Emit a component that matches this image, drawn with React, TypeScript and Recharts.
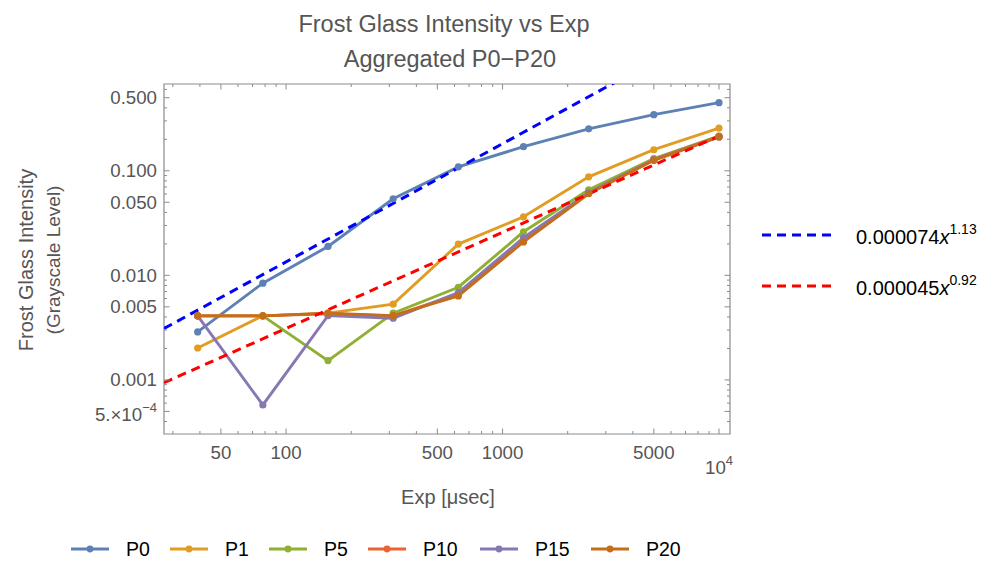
import React from "react";
import { LineChart, Line, XAxis, YAxis, ReferenceArea } from "recharts";

// exposure times in µsec (doubling steps up to 10^4)
const exposures = [39.0625, 78.125, 156.25, 312.5, 625, 1250, 2500, 5000, 10000];

const seriesNames = ["P0", "P1", "P5", "P10", "P15", "P20"];
const seriesColors = ["#5e81b5", "#e19c24", "#8fb032", "#eb6235", "#8778b3", "#c56e1a"];

const p0 = [0.00288, 0.00842, 0.0189, 0.054, 0.109, 0.17, 0.252, 0.344, 0.448];
const p1 = [0.00202, 0.0041, 0.00435, 0.0053, 0.0199, 0.0363, 0.0876, 0.159, 0.256];
const p5 = [0.0041, 0.0041, 0.00153, 0.00435, 0.0077, 0.0261, 0.0658, 0.131, 0.215];
const p10 = [0.0041, 0.0041, 0.0043, 0.0041, 0.0066, 0.0218, 0.0616, 0.128, 0.213];
const p15 = [0.0041, 0.000576, 0.00412, 0.00389, 0.00684, 0.0229, 0.0616, 0.127, 0.211];
const p20 = [0.0041, 0.0041, 0.00435, 0.00412, 0.00636, 0.0209, 0.0603, 0.126, 0.211];
const seriesValues = [p0, p1, p5, p10, p15, p20];

// power-law fits, end points
const fitBlueX = [27.3, 10000];
const fitBlueY = [0.0031, 2.45];
const fitRedX = [27.3, 10000];
const fitRedY = [0.00094, 0.215];
const fitCoefs = ["0.000074", "0.000045"];
const fitExps = ["1.13", "0.92"];
const fitColors = ["#0000ff", "#ff0000"];

const xMajorTicks = [50, 100, 500, 1000, 5000, 10000];
const xMinorTicks = [30, 40, 60, 70, 80, 90, 200, 300, 400, 600, 700, 800, 900, 2000, 3000, 4000, 6000, 7000, 8000, 9000];
const yMajorTicks = [0.0005, 0.001, 0.005, 0.01, 0.05, 0.1, 0.5];
const yMajorLabels = ["5.×10", "0.001", "0.005", "0.010", "0.050", "0.100", "0.500"];
const yMinorTicks = [0.0004, 0.0006, 0.0007, 0.0008, 0.0009, 0.002, 0.003, 0.004, 0.006, 0.007, 0.008, 0.009, 0.02, 0.03, 0.04, 0.06, 0.07, 0.08, 0.09, 0.2, 0.3, 0.4, 0.6];

const xDomain = [27.3, 11240];
const yDomain = [0.000304, 0.676];

const W = 997;
const H = 563;
const PLOT = { left: 164, right: 730, top: 84, bottom: 434 };
const FRAME = "#8c8c8c";
const AXIS_TEXT = "#555";
const FONT = "'Liberation Sans', Arial, sans-serif";

const toPoints = (xs: number[], ys: number[]) => xs.map((x, i) => ({ x, y: ys[i] }));

function XTick(props: any) {
  const { x, payload } = props;
  const v = payload.value;
  const major = xMajorTicks.includes(v);
  const len = major ? 5.5 : 3;
  return (
    <g>
      <line x1={x} x2={x} y1={PLOT.bottom} y2={PLOT.bottom - len} stroke={FRAME} />
      <line x1={x} x2={x} y1={PLOT.top} y2={PLOT.top + len} stroke={FRAME} />
      {major && v === 10000 && (
        <text x={x} y={474} textAnchor="middle" fontSize={18.7} fill={AXIS_TEXT} fontFamily={FONT}>
          10<tspan dy={-9} fontSize={13}>4</tspan>
        </text>
      )}
      {major && v !== 10000 && (
        <text x={x} y={459} textAnchor="middle" fontSize={18.7} fill={AXIS_TEXT} fontFamily={FONT}>
          {v}
        </text>
      )}
    </g>
  );
}

function YTick(props: any) {
  const { y, payload } = props;
  const v = payload.value;
  const idx = yMajorTicks.indexOf(v);
  const major = idx >= 0;
  const len = major ? 5.5 : 3;
  return (
    <g>
      <line x1={PLOT.left} x2={PLOT.left + len} y1={y} y2={y} stroke={FRAME} />
      <line x1={PLOT.right} x2={PLOT.right - len} y1={y} y2={y} stroke={FRAME} />
      {major && v === 0.0005 && (
        <text x={PLOT.left - 7} y={y + 10} textAnchor="end" fontSize={18.7} fill={AXIS_TEXT} fontFamily={FONT}>
          {yMajorLabels[idx]}
          <tspan dy={-9} fontSize={13}>−4</tspan>
        </text>
      )}
      {major && v !== 0.0005 && (
        <text x={PLOT.left - 7} y={y + 6.5} textAnchor="end" fontSize={18.7} fill={AXIS_TEXT} fontFamily={FONT}>
          {yMajorLabels[idx]}
        </text>
      )}
    </g>
  );
}

const legendLineX = [71, 170, 269, 368, 480, 591];

export default function App() {
  const series = seriesNames.map((name, i) => ({
    name,
    color: seriesColors[i],
    data: toPoints(exposures, seriesValues[i]),
  }));
  const fits = [toPoints(fitBlueX, fitBlueY), toPoints(fitRedX, fitRedY)];

  return (
    <div style={{ position: "absolute", left: 0, top: 0, width: W, height: H, background: "#fff" }}>
      <LineChart
        width={W}
        height={H}
        margin={{ top: PLOT.top, right: W - PLOT.right, bottom: H - PLOT.bottom - 30, left: PLOT.left - 60 }}
      >
        <XAxis
          dataKey="x"
          type="number"
          scale="log"
          domain={xDomain}
          allowDataOverflow
          ticks={[...xMinorTicks, ...xMajorTicks].sort((a, b) => a - b)}
          interval={0}
          tick={<XTick />}
          tickLine={false}
          axisLine={false}
          height={30}
        />
        <YAxis
          dataKey="y"
          type="number"
          scale="log"
          domain={yDomain}
          allowDataOverflow
          ticks={[...yMinorTicks, ...yMajorTicks].sort((a, b) => a - b)}
          interval={0}
          tick={<YTick />}
          tickLine={false}
          axisLine={false}
          width={60}
        />
        <ReferenceArea
          x1={xDomain[0]}
          x2={xDomain[1]}
          y1={yDomain[0]}
          y2={yDomain[1]}
          fill="none"
          stroke={FRAME}
          strokeWidth={1.2}
          ifOverflow="visible"
        />
        {series.map((s) => (
          <Line
            key={s.name}
            data={s.data}
            dataKey="y"
            type="linear"
            stroke={s.color}
            strokeWidth={2.9}
            dot={{ r: 3.6, fill: s.color, stroke: s.color, strokeWidth: 0 }}
            isAnimationActive={false}
          />
        ))}
        {fits.map((f, i) => (
          <Line
            key={"fit" + i}
            data={f}
            dataKey="y"
            type="linear"
            stroke={fitColors[i]}
            strokeWidth={3}
            strokeDasharray="9 6"
            dot={false}
            isAnimationActive={false}
          />
        ))}
      </LineChart>

      <svg
        width={W}
        height={H}
        style={{ position: "absolute", left: 0, top: 0, pointerEvents: "none" }}
        fontFamily={FONT}
      >
        <text x={444} y={31.5} textAnchor="middle" fontSize={23.5} fill={AXIS_TEXT}>
          Frost Glass Intensity vs Exp
        </text>
        <text x={450} y={67} textAnchor="middle" fontSize={23.5} fill={AXIS_TEXT}>
          Aggregated P0−P20
        </text>
        <text transform="translate(33,260) rotate(-90)" textAnchor="middle" fontSize={20} fill={AXIS_TEXT}>
          Frost Glass Intensity
        </text>
        <text transform="translate(60,260) rotate(-90)" textAnchor="middle" fontSize={19} fill={AXIS_TEXT}>
          (Grayscale Level)
        </text>
        <text x={448} y={504} textAnchor="middle" fontSize={20} fill={AXIS_TEXT}>
          Exp [μsec]
        </text>

        {fitCoefs.map((c, i) => {
          const cy = 235 + i * 51;
          return (
            <g key={c}>
              <line x1={762} x2={835} y1={cy} y2={cy} stroke={fitColors[i]} strokeWidth={3} strokeDasharray="9 6" />
              <text x={856} y={cy + 9} fontSize={20} fill="#000">
                {c}
                <tspan fontStyle="italic">x</tspan>
                <tspan dy={-10} fontSize={14}>{fitExps[i]}</tspan>
              </text>
            </g>
          );
        })}

        {seriesNames.map((name, i) => {
          const lx = legendLineX[i];
          return (
            <g key={name}>
              <line x1={lx} x2={lx + 38} y1={549} y2={549} stroke={seriesColors[i]} strokeWidth={2.9} />
              <circle cx={lx + 19} cy={549} r={3.4} fill={seriesColors[i]} />
              <text x={lx + 55} y={556} fontSize={19.5} fill="#000">
                {name}
              </text>
            </g>
          );
        })}
      </svg>
    </div>
  );
}
